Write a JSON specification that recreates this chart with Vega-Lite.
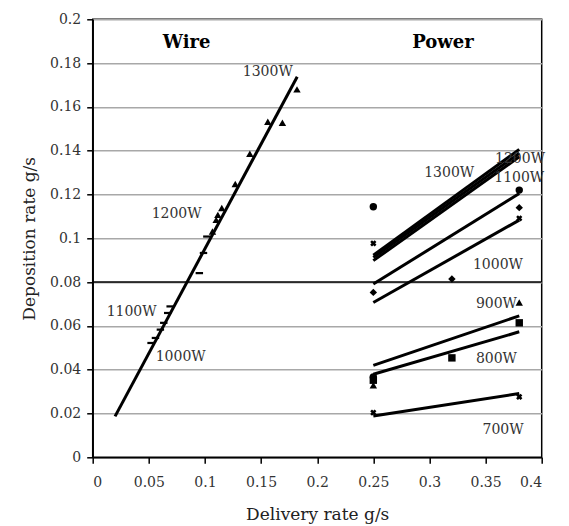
{
  "$schema": "https://vega.github.io/schema/vega-lite/v6.json",
  "width": 449,
  "height": 438,
  "autosize": {"type": "none"},
  "padding": {"left": 92.7, "top": 19.3, "right": 27.3, "bottom": 68.7},
  "background": "white",
  "config": {
    "font": "DejaVu Serif",
    "view": {"stroke": "black", "strokeWidth": 1.5},
    "axis": {
      "domainColor": "black",
      "domainWidth": 1.5,
      "tickColor": "black",
      "tickWidth": 1.5,
      "tickSize": 6,
      "labelColor": "#333",
      "labelFont": "DejaVu Serif",
      "labelFontSize": 14,
      "titleFont": "DejaVu Serif",
      "titleFontSize": 17,
      "titleFontWeight": "normal",
      "titleColor": "#222"
    }
  },
  "datasets": {
    "lines": [
      {"s": "wire", "x": 0.0199, "y": 0.0187}, {"s": "wire", "x": 0.1822, "y": 0.1738},
      {"s": "p1200", "x": 0.25, "y": 0.0923}, {"s": "p1200", "x": 0.38, "y": 0.1406},
      {"s": "p1300", "x": 0.25, "y": 0.0912}, {"s": "p1300", "x": 0.38, "y": 0.1388},
      {"s": "p1300b", "x": 0.25, "y": 0.0898}, {"s": "p1300b", "x": 0.38, "y": 0.1372},
      {"s": "p1100", "x": 0.25, "y": 0.0791}, {"s": "p1100", "x": 0.38, "y": 0.1205},
      {"s": "p1000", "x": 0.25, "y": 0.0707}, {"s": "p1000", "x": 0.38, "y": 0.1083},
      {"s": "p900", "x": 0.25, "y": 0.042}, {"s": "p900", "x": 0.38, "y": 0.0646},
      {"s": "p800", "x": 0.25, "y": 0.0379}, {"s": "p800", "x": 0.38, "y": 0.0573},
      {"s": "p700", "x": 0.25, "y": 0.0189}, {"s": "p700", "x": 0.38, "y": 0.0291}
    ],
    "points": [
      {"m": "triangle", "x": 0.182, "y": 0.168},
      {"m": "triangle", "x": 0.156, "y": 0.1532},
      {"m": "triangle", "x": 0.169, "y": 0.1528},
      {"m": "triangle", "x": 0.14, "y": 0.1386},
      {"m": "triangle", "x": 0.127, "y": 0.1248},
      {"m": "triangle", "x": 0.115, "y": 0.1138},
      {"m": "triangle", "x": 0.1115, "y": 0.1107},
      {"m": "triangle", "x": 0.11, "y": 0.1084},
      {"m": "triangle", "x": 0.1067, "y": 0.1031},
      {"m": "dash", "x": 0.1017, "y": 0.1008},
      {"m": "dash", "x": 0.0987, "y": 0.0933},
      {"m": "dash", "x": 0.095, "y": 0.0841},
      {"m": "dash", "x": 0.069, "y": 0.0689},
      {"m": "dash", "x": 0.0668, "y": 0.0659},
      {"m": "dash", "x": 0.0633, "y": 0.0614},
      {"m": "dash", "x": 0.0603, "y": 0.0583},
      {"m": "dash", "x": 0.0559, "y": 0.0545},
      {"m": "dash", "x": 0.052, "y": 0.0522},
      {"m": "circle", "x": 0.25, "y": 0.1144},
      {"m": "x", "x": 0.25, "y": 0.0977},
      {"m": "diamond", "x": 0.25, "y": 0.0753},
      {"m": "circle", "x": 0.25, "y": 0.0367},
      {"m": "square", "x": 0.25, "y": 0.0352},
      {"m": "triangle", "x": 0.25, "y": 0.0329},
      {"m": "x", "x": 0.25, "y": 0.0204},
      {"m": "circle", "x": 0.38, "y": 0.122},
      {"m": "diamond", "x": 0.38, "y": 0.114},
      {"m": "x", "x": 0.38, "y": 0.1091},
      {"m": "triangle", "x": 0.38, "y": 0.0707},
      {"m": "square", "x": 0.38, "y": 0.0614},
      {"m": "x", "x": 0.38, "y": 0.0276},
      {"m": "diamond", "x": 0.32, "y": 0.0814},
      {"m": "square", "x": 0.32, "y": 0.0454}
    ],
    "labels": [
      {"t": "1300W", "x": 0.156, "y": 0.176},
      {"t": "1200W", "x": 0.0748, "y": 0.111},
      {"t": "1100W", "x": 0.0347, "y": 0.0664},
      {"t": "1000W", "x": 0.0784, "y": 0.0456},
      {"t": "1200W", "x": 0.3807, "y": 0.1362},
      {"t": "1300W", "x": 0.3176, "y": 0.1297},
      {"t": "1100W", "x": 0.38, "y": 0.1274},
      {"t": "1000W", "x": 0.361, "y": 0.0877},
      {"t": "900W", "x": 0.3597, "y": 0.0702},
      {"t": "800W", "x": 0.3597, "y": 0.0448},
      {"t": "700W", "x": 0.3656, "y": 0.0123}
    ],
    "titles": [
      {"t": "Wire", "x": 0.0837, "y": 0.189},
      {"t": "Power", "x": 0.312, "y": 0.189}
    ]
  },
  "layer": [
    {
      "data": {"name": "lines"},
      "mark": {"type": "line", "color": "black", "strokeWidth": 3, "clip": false},
      "encoding": {
        "x": {
          "field": "x", "type": "quantitative",
          "scale": {"domain": [0, 0.4], "nice": false, "zero": false},
          "axis": {
            "values": [0, 0.05, 0.1, 0.15, 0.2, 0.25, 0.3, 0.35, 0.4],
            "format": "~g",
            "grid": false,
            "title": "Delivery rate g/s",
            "labelFont": "DejaVu Serif",
            "labelFontSize": 14,
            "labelColor": "#333",
            "titleFont": "DejaVu Serif",
            "titleFontSize": 17,
            "titleFontWeight": "normal",
            "titleColor": "#222",
            "labelPadding": 12,
            "titlePadding": 17
          }
        },
        "y": {
          "field": "y", "type": "quantitative",
          "scale": {"domain": [0, 0.2], "nice": false, "zero": false},
          "axis": {
            "values": [0, 0.02, 0.04, 0.06, 0.08, 0.1, 0.12, 0.14, 0.16, 0.18, 0.2],
            "format": "~g",
            "grid": true,
            "gridColor": "#a8a8a8",
            "gridWidth": 1.5,
            "title": "Deposition rate g/s",
            "labelFont": "DejaVu Serif",
            "labelFontSize": 14,
            "labelColor": "#333",
            "titleFont": "DejaVu Serif",
            "titleFontSize": 17,
            "titleFontWeight": "normal",
            "titleColor": "#222",
            "labelPadding": 6,
            "titlePadding": 11
          }
        },
        "detail": {"field": "s"}
      }
    },
    {
      "data": {"values": [{"v": 0.08}]},
      "mark": {"type": "rule", "color": "black", "strokeWidth": 1.5},
      "encoding": {"y": {"field": "v", "type": "quantitative"}}
    },
    {
      "data": {"name": "points"},
      "mark": {"type": "point", "filled": true, "color": "black", "opacity": 1},
      "encoding": {
        "x": {"field": "x", "type": "quantitative"},
        "y": {"field": "y", "type": "quantitative"},
        "shape": {
          "field": "m", "type": "nominal", "legend": null,
          "scale": {
            "domain": ["triangle", "dash", "circle", "diamond", "square", "x"],
            "range": ["triangle-up", "M-1,-0.3H1V0.3H-1Z", "circle", "diamond", "square", "cross"]
          }
        },
        "size": {"condition": {"test": "datum.m == 'x'", "value": 40}, "value": 55},
        "angle": {"condition": {"test": "datum.m == 'x'", "value": 45}, "value": 0}
      }
    },
    {
      "data": {"name": "labels"},
      "mark": {"type": "text", "font": "DejaVu Serif", "fontSize": 14, "color": "#333", "align": "center", "baseline": "middle"},
      "encoding": {
        "x": {"field": "x", "type": "quantitative"},
        "y": {"field": "y", "type": "quantitative"},
        "text": {"field": "t"}
      }
    },
    {
      "data": {"name": "titles"},
      "mark": {"type": "text", "font": "DejaVu Serif", "fontSize": 18, "fontWeight": "bold", "color": "black", "align": "center", "baseline": "middle"},
      "encoding": {
        "x": {"field": "x", "type": "quantitative"},
        "y": {"field": "y", "type": "quantitative"},
        "text": {"field": "t"}
      }
    }
  ]
}
